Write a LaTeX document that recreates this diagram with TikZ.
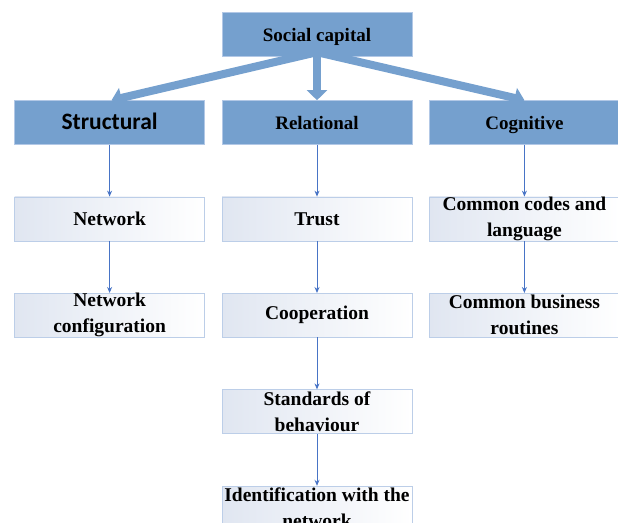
\documentclass[tikz,border=0pt]{standalone}
\usepackage{fontspec}
\setmainfont{Liberation Serif}
\newfontfamily\carlito{Carlito}
\usepackage{tikz}
\usetikzlibrary{arrows.meta, positioning}

\definecolor{headblue}{RGB}{117,160,206}
\definecolor{headedge}{RGB}{178,200,230}
\definecolor{linkblue}{RGB}{72,116,198}
\definecolor{boxedge}{RGB}{188,206,232}
\definecolor{boxshade}{RGB}{224,230,241}

\begin{document}
\begin{tikzpicture}[
        x=1pt, y=1pt,
        node distance=52pt and 17pt,
        headbox/.style={rectangle, draw=headedge, fill=headblue, thin, minimum width=190pt, minimum height=44pt, inner sep=0pt, text height=15pt, text depth=0pt, align=center, font=\fontsize{19}{26}\selectfont\bfseries},
        itembox/.style={rectangle, draw=boxedge, left color=boxshade, right color=white, thin, minimum width=190pt, minimum height=44pt, inner sep=0pt, align=center, font=\fontsize{19.5}{26}\selectfont\bfseries},
        link/.style={-{Stealth[length=6pt, width=5pt]}, draw=linkblue, line width=0.9pt},
        bigarrow/.style={-{Triangle[length=10pt, width=20pt]}, draw=headblue, line width=8pt}
        ]

        \clip (0,0) rectangle (618,522);

        % Social capital and its three dimensions
        \node (soc) [headbox] at (317,488) {Social capital};
        \node (rel) [headbox, below=44pt of soc] {Relational};
        \node (str) [headbox, left=17pt of rel, font=\fontsize{23.5}{26}\selectfont\carlito\bfseries] {Structural};
        \node (cog) [headbox, right=17pt of rel] {Cognitive};

        % Structural column
        \node (net) [itembox, below=of str] {Network};
        \node (conf) [itembox, below=of net] {Network\\configuration};

        % Relational column
        \node (trust) [itembox, below=of rel] {Trust};
        \node (coop) [itembox, below=of trust] {Cooperation};
        \node (std) [itembox, below=of coop] {Standards of\\behaviour};
        \node (ident) [itembox, below=of std] {Identification with the\\network};

        % Cognitive column
        \node (codes) [itembox, below=of cog] {Common codes and\\language};
        \node (rout) [itembox, below=of codes] {Common business\\routines};

        % Thick arrows from the top box
        \draw [bigarrow] ([yshift=4pt]soc.south) -- ([xshift=2pt]str.north);
        \draw [bigarrow] ([yshift=4pt]soc.south) -- (rel.north);
        \draw [bigarrow] ([yshift=4pt]soc.south) -- (cog.north);

        % Thin links down each column
        \draw [link] (str) -- (net);
        \draw [link] (net) -- (conf);
        \draw [link] (rel) -- (trust);
        \draw [link] (trust) -- (coop);
        \draw [link] (coop) -- (std);
        \draw [link] (std) -- (ident);
        \draw [link] (cog) -- (codes);
        \draw [link] (codes) -- (rout);

    \end{tikzpicture}
\end{document}
